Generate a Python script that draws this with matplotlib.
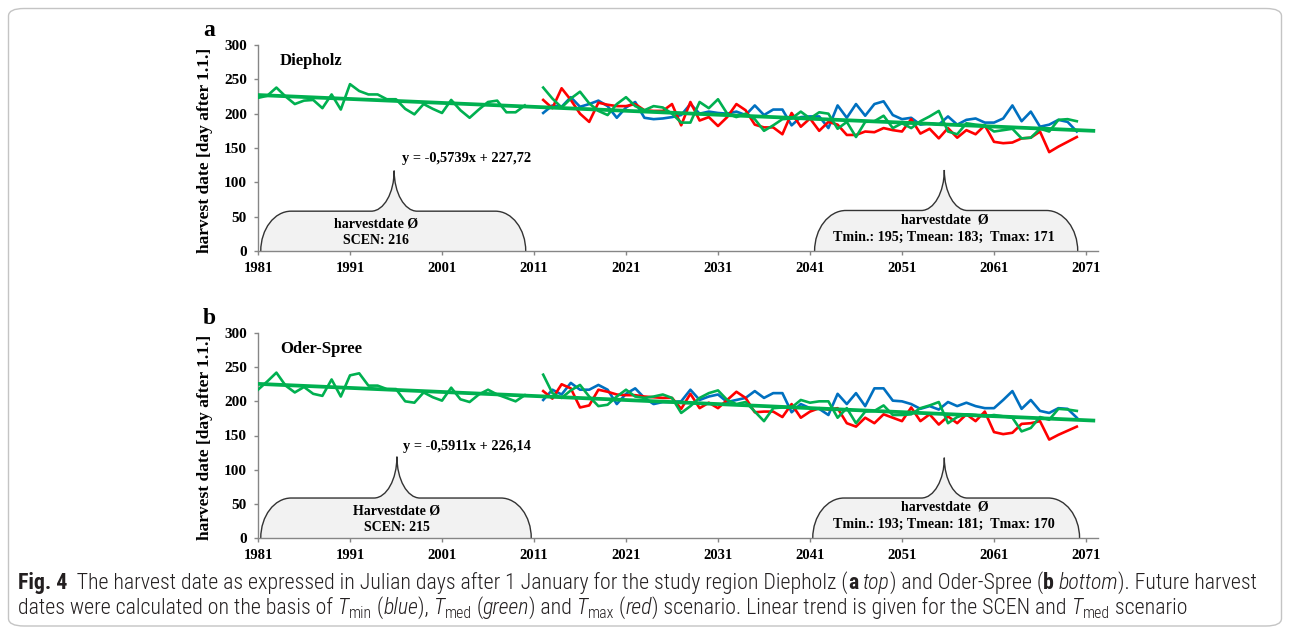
import os
import numpy as np
import matplotlib
matplotlib.use('Agg')
import matplotlib.pyplot as plt
from matplotlib.path import Path
from matplotlib.patches import PathPatch, FancyBboxPatch
from matplotlib import font_manager as fm
from matplotlib.font_manager import FontProperties

# ---------------- data ----------------
hist_years = list(range(1981, 2011))
fut_years = list(range(2012, 2071))
x_ticks = [1981, 1991, 2001, 2011, 2021, 2031, 2041, 2051, 2061, 2071]
y_ticks = [0, 50, 100, 150, 200, 250, 300]

diep_scen = [223, 226, 238, 225, 214, 219, 220, 208, 228, 206, 243, 233, 228, 228, 221,
             221, 207, 199, 214, 207, 201, 220, 205, 194, 206, 217, 219, 202, 202, 212]
diep_tmin = [201, 212, 210, 224, 210, 214, 219, 211, 194, 209, 217, 194, 192, 193, 195,
             198, 214, 200, 203, 201, 200, 203, 198, 212, 198, 206, 206, 183, 195,
             196, 196, 179, 212, 194, 214, 197, 214, 218, 198, 192, 194, 184, 186, 184,
             196, 184, 191, 193, 187, 187, 193, 212, 189, 203, 181, 184, 191, 188, 174]
diep_tmed = [238, 222, 209, 222, 232, 215, 204, 198, 214, 224, 211, 205, 211, 209, 200,
             187, 187, 217, 208, 221, 200, 195, 200, 192, 175, 183, 192, 193, 203,
             193, 202, 200, 178, 188, 166, 188, 189, 197, 179, 186, 179, 189, 196, 204,
             174, 170, 186, 184, 183, 174, 176, 178, 164, 165, 178, 174, 191, 192, 189]
diep_tmax = [220, 208, 237, 220, 200, 188, 216, 213, 211, 211, 214, 205, 204, 204, 214,
             183, 217, 190, 195, 182, 195, 214, 205, 184, 180, 180, 170, 201, 181,
             193, 175, 188, 184, 169, 169, 174, 173, 179, 176, 174, 192, 171, 178, 164,
             179, 165, 176, 170, 183, 159, 157, 158, 164, 165, 174, 144, 152, 159, 166]

oder_scen = [217, 229, 242, 223, 213, 221, 211, 208, 232, 207, 238, 241, 223, 223, 218,
             218, 200, 198, 213, 206, 201, 220, 203, 199, 210, 217, 210, 205, 200, 209]
oder_tmin = [202, 217, 210, 227, 217, 217, 224, 217, 196, 211, 219, 205, 196, 199, 199,
             200, 217, 202, 207, 210, 199, 202, 205, 215, 205, 212, 212, 184, 196,
             190, 189, 180, 211, 196, 212, 193, 219, 219, 201, 200, 196, 189, 193, 188,
             199, 193, 198, 193, 190, 190, 202, 215, 189, 202, 186, 183, 190, 189, 176]
oder_tmed = [239, 212, 205, 216, 224, 207, 193, 195, 207, 217, 207, 205, 207, 210, 205,
             183, 193, 205, 212, 216, 202, 196, 199, 185, 171, 190, 191, 191, 202,
             198, 200, 200, 176, 190, 168, 185, 186, 194, 180, 180, 181, 190, 194, 199,
             168, 177, 181, 180, 178, 180, 178, 176, 156, 161, 177, 173, 189, 188, 186]
oder_tmax = [215, 204, 225, 219, 191, 194, 217, 214, 210, 209, 209, 207, 206, 205, 205,
             189, 211, 190, 198, 190, 202, 214, 205, 184, 185, 185, 177, 196, 176,
             185, 190, 188, 190, 168, 163, 176, 168, 181, 176, 171, 191, 171, 181, 166,
             178, 168, 181, 171, 185, 155, 152, 154, 167, 168, 171, 144, 151, 157, 163]

diep_trend = (-0.5739, 227.72)
oder_trend = (-0.5911, 226.14)
trend_span = [1981, 2072]

# ---------------- style ----------------
BLUE, GREEN, RED = '#0070C0', '#00B050', '#FF0000'
AXIS_GRAY = '#868686'
SERIF = 'Liberation Serif'
plt.rcParams['font.family'] = [SERIF, 'DejaVu Serif']

W, H = 1290, 630
fig = plt.figure(figsize=(W / 100, H / 100), dpi=100)

# rounded frame
frame = FancyBboxPatch((8.5 / W, 1 - 626 / H), (1281.5 - 8.5) / W, (626 - 8.5) / H,
                       boxstyle='round,pad=0,rounding_size=0.012',
                       transform=fig.transFigure, fc='white', ec='#c4c4c4', lw=1.0,
                       zorder=-5)
fig.patches.append(frame)

XMIN, XMAX = 1981, 2072.3
PXY = 9.2
right_px = 258 + (XMAX - XMIN) * PXY


def px_axes(left, top, right, bottom):
    return fig.add_axes([left / W, 1 - bottom / H, (right - left) / W, (bottom - top) / H])


def brace(ax, x0, x1, xp, ys, yp, rx, tx):
    k = 0.55
    h = yp - ys
    verts = [(x0, 0),
             (x0, k * ys), (x0 + (1 - k) * rx, ys), (x0 + rx, ys),
             (xp - tx, ys),
             (xp - tx + k * tx, ys), (xp, yp - k * h), (xp, yp),
             (xp, yp - k * h), (xp + tx - k * tx, ys), (xp + tx, ys),
             (x1 - rx, ys),
             (x1 - (1 - k) * rx, ys), (x1, k * ys), (x1, 0)]
    codes = [Path.MOVETO,
             Path.CURVE4, Path.CURVE4, Path.CURVE4,
             Path.LINETO,
             Path.CURVE4, Path.CURVE4, Path.CURVE4,
             Path.CURVE4, Path.CURVE4, Path.CURVE4,
             Path.LINETO,
             Path.CURVE4, Path.CURVE4, Path.CURVE4]
    fill = Path(verts + [(x0, 0)], codes + [Path.CLOSEPOLY])
    ax.add_patch(PathPatch(fill, fc='#f2f2f2', ec='none', zorder=1))
    ax.add_patch(PathPatch(Path(verts, codes), fc='none', ec='#333333', lw=1.0, zorder=2))


def panel(ax, scen, tmin, tmed, tmax, trend, region, eq_text, left_txt, right_txt,
          lb, rb):
    ax.plot(fut_years, tmin, color=BLUE, lw=1.9, zorder=3)
    ax.plot(fut_years, tmax, color=RED, lw=1.9, zorder=3)
    ax.plot(fut_years, tmed, color=GREEN, lw=1.9, zorder=3)
    ax.plot(hist_years, scen, color=GREEN, lw=1.9, zorder=3)
    tx = np.array(trend_span, dtype=float)
    ax.plot(tx, trend[0] * (tx - 1980) + trend[1], color=GREEN, lw=2.7, zorder=4,
            solid_capstyle='butt')
    brace(ax, *lb)
    brace(ax, *rb)
    ax.set_xlim(XMIN, XMAX)
    ax.set_ylim(0, 300)
    ax.set_xticks(x_ticks)
    ax.set_yticks(y_ticks)
    for s in ('top', 'right'):
        ax.spines[s].set_visible(False)
    for s in ('left', 'bottom'):
        ax.spines[s].set_color(AXIS_GRAY)
        ax.spines[s].set_linewidth(1.0)
    ax.tick_params(axis='both', direction='out', length=3, width=1.0, color=AXIS_GRAY,
                   labelsize=10.5, pad=5)
    ax.tick_params(axis='y', labelsize=11)
    for lab in ax.get_xticklabels() + ax.get_yticklabels():
        lab.set_fontweight('bold')
    ax.set_ylabel('harvest date [day after 1.1.]', fontsize=12.5, fontweight='bold')
    ax.yaxis.set_label_coords(-0.053, 0.49)
    ax.text(1983.4, 276, region, fontsize=12, fontweight='bold', ha='left',
            va='center')
    ax.text(2003.7, 134, eq_text, fontsize=10.4, fontweight='bold', ha='center',
            va='center')
    ax.text(left_txt[0], 39, left_txt[1], fontsize=10, fontweight='bold',
            ha='center', va='center', zorder=5)
    ax.text(left_txt[0], 15, left_txt[2], fontsize=10, fontweight='bold',
            ha='center', va='center', zorder=5)
    ax.text(2055.6, 45, right_txt[0], fontsize=10, fontweight='bold',
            ha='center', va='center', zorder=5)
    ax.text(2055.6, 20, right_txt[1], fontsize=10.2, fontweight='bold',
            ha='center', va='center', zorder=5)


ax_a = px_axes(258, 45, right_px, 251)
ax_b = px_axes(258, 333, right_px, 538)

panel(ax_a, diep_scen, diep_tmin, diep_tmed, diep_tmax, diep_trend, 'Diepholz',
      'y = -0,5739x + 227,72', (1993.8, 'harvestdate Ø', 'SCEN: 216'),
      ('harvestdate  Ø', 'Tmin.: 195; Tmean: 183;  Tmax: 171'),
      (1981.3, 2010.1, 1995.8, 58, 117, 3.3, 2.5),
      (2041.5, 2070.1, 2055.6, 59, 118, 3.4, 2.5))
panel(ax_b, oder_scen, oder_tmin, oder_tmed, oder_tmax, oder_trend, 'Oder-Spree',
      'y = -0,5911x + 226,14', (1996.1, 'Harvestdate Ø', 'SCEN: 215'),
      ('harvestdate  Ø', 'Tmin.: 193; Tmean: 181;  Tmax: 170'),
      (1981.3, 2010.7, 1996.1, 58.5, 119, 3.3, 2.5),
      (2041.3, 2070.3, 2055.6, 58.5, 117.5, 3.4, 2.5))

fig.text(209 / W, 1 - 31 / H, 'a', fontsize=17, fontweight='bold', ha='center',
         va='center')
fig.text(209 / W, 1 - 319 / H, 'b', fontsize=17, fontweight='bold', ha='center',
         va='center')

# ---------------- caption font (condensed sans if available) ----------------
WMAP = {'ultralight': 200, 'light': 300, 'normal': 400, 'regular': 400, 'book': 400,
        'medium': 500, 'roman': 400, 'semibold': 600, 'demibold': 600, 'demi': 600,
        'bold': 700, 'heavy': 800, 'extra bold': 800, 'black': 900}


def wnum(w):
    if isinstance(w, (int, float)):
        return w
    return WMAP.get(str(w).lower(), 400)


def is_condensed(f):
    base = os.path.basename(f.fname)
    return ('ondensed' in str(f.stretch) or 'Condensed' in base or 'Narrow' in base
            or 'Narrow' in f.name or 'Condensed' in f.name)


entries = fm.fontManager.ttflist
cand = []
for fam in ['Liberation Sans Narrow', 'Roboto Condensed', 'DejaVu Sans', 'Open Sans',
            'Noto Sans', 'Roboto']:
    cand = [f for f in entries if f.name == fam and is_condensed(f)]
    if cand:
        break
if not cand:
    cand = [f for f in entries if is_condensed(f) and 'Serif' not in f.name
            and 'Mono' not in f.name]


def pick(bold, italic):
    best, score = None, None
    target = 700 if bold else 300
    for f in cand:
        it = str(f.style) in ('italic', 'oblique')
        s = abs(wnum(f.weight) - target) + (0 if it == italic else 1000)
        if score is None or s < score:
            best, score = f, s
    return best


def make_fp(bold=False, italic=False, size=12):
    f = pick(bold, italic) if cand else None
    if f is not None:
        fp = FontProperties(fname=f.fname)
    else:
        fp = FontProperties(family=['DejaVu Sans'], weight='bold' if bold else 'normal',
                            style='italic' if italic else 'normal')
    fp.set_size(size)
    return fp


# ---------------- caption ----------------
renderer = fig.canvas.get_renderer()
CAP_COLOR = '#231f20'


def measure(s, fp):
    t1 = fig.text(0, 0, 'X' + s + 'X', fontproperties=fp)
    t2 = fig.text(0, 0, 'XX', fontproperties=fp)
    w = t1.get_window_extent(renderer).width - t2.get_window_extent(renderer).width
    t1.remove()
    t2.remove()
    return w


def draw_runs(x_px, y_px, runs, size, draw=True):
    x = x_px
    for s, kw in runs:
        sz = size * kw.get('scale', 1.0)
        fp = make_fp(kw.get('bold', False), kw.get('italic', False), sz)
        dy = kw.get('dy', 0.0)
        if draw:
            fig.text(x / W, 1 - (y_px + dy) / H, s, fontproperties=fp,
                     color=CAP_COLOR, ha='left', va='baseline')
        x += measure(s, fp)
    return x - x_px


B = {'bold': True}
I = {'italic': True}
N = {}
SUB = {'scale': 0.72, 'dy': 3.5}

line1 = [('Fig. 4', B), ('  The harvest date as expressed in Julian days after 1 January for the '
                          'study region Diepholz (', N), ('a', B), (' ', N), ('top', I),
         (') and Oder-Spree (', N), ('b', B), (' ', N), ('bottom', I),
         ('). Future harvest', N)]
line2 = [('dates were calculated on the basis of ', N), ('T', I), ('min', SUB), (' (', N),
         ('blue', I), ('), ', N), ('T', I), ('med', SUB), (' (', N), ('green', I),
         (') and ', N), ('T', I), ('max', SUB), (' (', N), ('red', I),
         (') scenario. Linear trend is given for the SCEN and ', N), ('T', I),
         ('med', SUB), (' scenario', N)]

base = 12.0
w1 = draw_runs(18, 587, line1, base, draw=False)
cap_size = min(base * (1263 - 18) / w1, 16.5)
draw_runs(18, 589, line1, cap_size)
draw_runs(18, 614, line2, cap_size)

fig.savefig('out.png', dpi=100, facecolor='white')
